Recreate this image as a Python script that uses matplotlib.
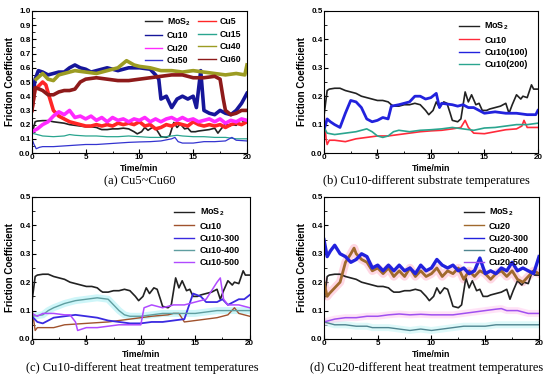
import matplotlib
matplotlib.use('Agg')
import matplotlib.pyplot as plt
from matplotlib.ticker import MultipleLocator

plt.rcParams['font.family'] = ['Liberation Sans', 'DejaVu Sans']
plt.rcParams['font.weight'] = 'bold'
plt.rcParams['mathtext.fontset'] = 'custom'
plt.rcParams['mathtext.rm'] = 'Liberation Sans:bold'
plt.rcParams['mathtext.it'] = 'Liberation Sans:bold'
plt.rcParams['mathtext.bf'] = 'Liberation Sans:bold'

#------------------------------------
# Data (time in min, friction coefficient)
mos2_t = [0, 0.3, 0.5, 1, 1.5, 2, 2.5, 3, 3.5, 4, 4.5, 5, 5.5, 6, 6.3, 6.5, 7, 7.5, 8, 8.5, 9, 9.5, 9.8,
          10.2, 10.5, 10.8, 11.2, 11.5, 11.8, 12, 12.5, 12.8, 13.2, 13.5, 13.8, 14.2, 14.5, 14.8, 15.2,
          15.5, 16, 16.5, 17, 17.3, 17.6, 18, 18.4, 18.6, 19, 19.4, 19.6, 20]
mos2_y = [0.13, 0.22, 0.225, 0.228, 0.228, 0.22, 0.215, 0.21, 0.2, 0.195, 0.19, 0.185, 0.185, 0.18, 0.17,
          0.165, 0.165, 0.17, 0.17, 0.175, 0.17, 0.15, 0.135, 0.15, 0.18, 0.16, 0.18, 0.175, 0.14, 0.115,
          0.11, 0.12, 0.215, 0.18, 0.205, 0.17, 0.175, 0.15, 0.15, 0.155, 0.16, 0.165, 0.175, 0.14, 0.17,
          0.205, 0.19, 0.2, 0.195, 0.24, 0.225, 0.225]

# (a) Cu5~Cu60
a_cu10_t = [0, 0.3, 0.6, 1, 1.5, 2, 2.5, 3, 3.5, 4, 4.5, 5, 5.5, 6, 7, 8, 9, 10, 11, 11.5, 11.8, 12, 12.5,
            13, 13.5, 14, 14.5, 15, 15.3, 15.7, 16, 16.5, 17, 17.5, 18, 18.5, 19, 19.5, 20]
a_cu10_y = [0.35, 0.52, 0.58, 0.57, 0.55, 0.56, 0.57, 0.57, 0.6, 0.62, 0.6, 0.59, 0.57, 0.58, 0.6, 0.58,
            0.6, 0.6, 0.59, 0.55, 0.52, 0.38, 0.4, 0.32, 0.38, 0.4, 0.38, 0.4, 0.32, 0.58, 0.3, 0.28, 0.27,
            0.3, 0.28, 0.27, 0.3, 0.35, 0.42]
a_cu40_t = [0.4, 1, 1.5, 2, 2.5, 3, 4, 5, 6, 7, 8, 8.8, 9.5, 10, 11, 12, 13, 14, 15, 16, 17, 18, 19, 19.8, 20]
a_cu40_y = [0.52, 0.56, 0.52, 0.51, 0.55, 0.56, 0.58, 0.57, 0.56, 0.58, 0.6, 0.65, 0.62, 0.61, 0.6, 0.58,
            0.58, 0.57, 0.58, 0.57, 0.56, 0.55, 0.56, 0.55, 0.62]
a_cu60_t = [0, 0.3, 0.7, 1, 1.5, 2, 2.5, 3, 3.5, 4, 4.5, 5, 6, 7, 8, 9, 10, 11, 12, 13, 14, 15, 16, 17,
            17.5, 17.8, 18, 18.5, 19, 19.5, 20]
a_cu60_y = [0.3, 0.46, 0.45, 0.44, 0.41, 0.41, 0.43, 0.44, 0.44, 0.45, 0.5, 0.52, 0.53, 0.52, 0.51, 0.51,
            0.52, 0.53, 0.54, 0.55, 0.55, 0.53, 0.53, 0.54, 0.52, 0.38, 0.3, 0.27, 0.28, 0.3, 0.3]
a_cu5_t = [0, 0.3, 0.6, 1, 1.3, 1.6, 2, 2.5, 3, 3.5, 4, 4.5, 5, 5.5, 6, 6.5, 7, 7.5, 8, 8.5, 9, 9.5, 10,
           10.5, 11, 11.5, 12, 12.5, 13, 13.5, 14, 14.5, 15, 15.5, 16, 16.5, 17, 17.5, 18, 18.5, 19, 19.5, 20]
a_cu5_y = [0.3, 0.45, 0.47, 0.5, 0.48, 0.4, 0.3, 0.26, 0.24, 0.22, 0.21, 0.2, 0.19, 0.19, 0.2, 0.19, 0.2,
           0.19, 0.21, 0.2, 0.21, 0.2, 0.22, 0.19, 0.2, 0.17, 0.18, 0.2, 0.19, 0.21, 0.2, 0.19, 0.22, 0.2,
           0.19, 0.2, 0.19, 0.2, 0.18, 0.2, 0.21, 0.2, 0.22]
a_cu20_t = [0, 0.5, 1, 1.5, 2, 2.5, 3, 3.5, 4, 4.5, 5, 5.5, 6, 6.5, 7, 7.5, 8, 8.5, 9, 9.5, 10, 10.5, 11,
            11.5, 12, 12.5, 13, 13.5, 14, 14.5, 15, 15.5, 16, 16.5, 17, 17.5, 18, 18.5, 19, 19.5, 20]
a_cu20_y = [0.15, 0.17, 0.2, 0.22, 0.26, 0.29, 0.27, 0.3, 0.25, 0.26, 0.24, 0.26, 0.23, 0.25, 0.22, 0.25,
            0.23, 0.24, 0.22, 0.24, 0.23, 0.25, 0.22, 0.24, 0.22, 0.24, 0.25, 0.23, 0.25, 0.23, 0.24, 0.22,
            0.23, 0.24, 0.22, 0.24, 0.21, 0.23, 0.22, 0.24, 0.23]
a_cu15_t = [0, 0.5, 1, 2, 3, 3.5, 4, 5, 6, 7, 8, 9, 10, 11, 12, 13, 13.5, 14, 15, 16, 17, 18, 19, 20]
a_cu15_y = [0.14, 0.13, 0.12, 0.115, 0.12, 0.13, 0.125, 0.12, 0.12, 0.115, 0.115, 0.12, 0.115, 0.11,
            0.11, 0.12, 0.125, 0.12, 0.115, 0.115, 0.11, 0.11, 0.1, 0.1]
a_cu50_t = [0, 0.2, 0.4, 0.7, 1, 2, 3, 4, 5, 6, 7, 8, 9, 10, 11, 12, 13, 13.3, 13.6, 14, 15, 16, 17, 18,
            18.6, 19, 20]
a_cu50_y = [0.1, 0.06, 0.03, 0.04, 0.045, 0.045, 0.05, 0.055, 0.06, 0.06, 0.065, 0.07, 0.075, 0.078, 0.08,
            0.085, 0.1, 0.11, 0.08, 0.07, 0.07, 0.08, 0.08, 0.085, 0.11, 0.09, 0.085]

# (b) Cu10-different substrate temperatures
b_cu10_t = [0, 0.2, 0.3, 0.5, 1, 2, 2.5, 3, 4, 5, 6, 7, 8, 9, 10, 11, 12, 12.8, 13.2, 13.5, 14, 15, 16,
            17, 18, 18.5, 18.7, 19, 20]
b_cu10_y = [0.14, 0.05, 0.03, 0.045, 0.045, 0.04, 0.045, 0.05, 0.055, 0.06, 0.06, 0.065, 0.07, 0.075,
            0.078, 0.08, 0.085, 0.09, 0.115, 0.09, 0.07, 0.068, 0.075, 0.082, 0.085, 0.095, 0.115, 0.09, 0.09]
b_cu100_t = [0, 0.3, 0.6, 1, 1.5, 2, 2.5, 3, 3.5, 4, 4.5, 5, 5.5, 6, 6.3, 7, 8, 8.5, 9, 9.5, 10, 10.5,
             10.8, 11, 12, 12.5, 13, 13.5, 14, 15, 16, 17, 18, 19, 19.8, 20]
b_cu100_y = [0.08, 0.12, 0.11, 0.1, 0.09, 0.14, 0.185, 0.18, 0.16, 0.12, 0.11, 0.115, 0.125, 0.12, 0.165,
             0.17, 0.18, 0.2, 0.2, 0.19, 0.195, 0.21, 0.16, 0.175, 0.17, 0.165, 0.17, 0.16, 0.16, 0.14,
             0.145, 0.14, 0.14, 0.135, 0.135, 0.15]
b_cu200_t = [0, 0.3, 1, 2, 3, 3.5, 4, 4.5, 5, 5.5, 6, 6.5, 7, 8, 9, 10, 11, 12, 13, 14, 15, 16, 17, 18, 19, 20]
b_cu200_y = [0.09, 0.07, 0.065, 0.07, 0.075, 0.08, 0.085, 0.075, 0.06, 0.055, 0.06, 0.075, 0.08, 0.075,
             0.08, 0.082, 0.085, 0.09, 0.085, 0.08, 0.088, 0.09, 0.095, 0.1, 0.1, 0.105]

# (c) Cu10-different heat treatment temperatures
c_cu10_t = [0, 0.3, 0.5, 2, 3, 5, 7, 9, 11, 12.5, 13, 13.5, 14, 15, 16, 17, 18, 18.6, 19, 20]
c_cu10_y = [0.11, 0.03, 0.04, 0.04, 0.05, 0.055, 0.06, 0.07, 0.08, 0.085, 0.09, 0.09, 0.06, 0.065, 0.07,
            0.075, 0.085, 0.11, 0.09, 0.08]
c_cu300_t = [0, 0.5, 1, 1.5, 2, 3, 4, 5, 6, 7, 8, 9, 10, 11, 12, 13, 14, 14.8, 15.5, 16, 17, 17.5, 18,
             18.5, 19, 19.5, 20]
c_cu300_y = [0.08, 0.06, 0.055, 0.065, 0.075, 0.08, 0.085, 0.08, 0.075, 0.065, 0.06, 0.055, 0.055, 0.06,
             0.06, 0.065, 0.07, 0.16, 0.15, 0.13, 0.13, 0.14, 0.12, 0.13, 0.14, 0.14, 0.155]
c_cu400_t = [0, 1, 1.5, 2, 3, 4, 5, 6, 7, 7.5, 8, 8.5, 9, 10, 11, 12, 13, 14, 15, 16, 17, 18, 19, 20]
c_cu400_y = [0.08, 0.085, 0.1, 0.11, 0.125, 0.135, 0.14, 0.145, 0.14, 0.12, 0.1, 0.085, 0.08, 0.08, 0.085,
             0.09, 0.09, 0.09, 0.09, 0.095, 0.1, 0.1, 0.1, 0.1]
c_cu500_t = [0, 0.5, 1, 2, 3, 3.5, 4, 4.2, 5, 6, 7, 8, 9, 10, 10.3, 11, 12, 13, 14, 15, 16, 17, 17.3,
             17.6, 18, 19, 20]
c_cu500_y = [0.09, 0.08, 0.09, 0.09, 0.085, 0.085, 0.06, 0.03, 0.04, 0.04, 0.045, 0.05, 0.05, 0.05, 0.11,
             0.12, 0.11, 0.12, 0.12, 0.13, 0.14, 0.2, 0.215, 0.14, 0.12, 0.12, 0.11]

# (d) Cu20-different heat treatment temperatures
d_cu20_t = [0, 0.3, 0.5, 1, 1.5, 2, 2.5, 2.8, 3, 3.5, 4, 4.5, 5, 5.5, 6, 6.5, 7, 7.5, 8, 8.5, 9, 9.5, 10,
            10.5, 11, 11.5, 12, 12.5, 13, 13.5, 14, 14.5, 15, 15.5, 16, 16.5, 17, 17.5, 18, 18.5, 19,
            19.5, 20]
d_cu20_y = [0.2, 0.15, 0.16, 0.18, 0.2, 0.27, 0.3, 0.32, 0.3, 0.28, 0.27, 0.24, 0.25, 0.23, 0.25, 0.22,
            0.24, 0.22, 0.25, 0.22, 0.24, 0.22, 0.23, 0.25, 0.22, 0.24, 0.23, 0.25, 0.21, 0.24, 0.22, 0.24,
            0.23, 0.21, 0.23, 0.24, 0.22, 0.24, 0.21, 0.2, 0.22, 0.24, 0.23]
d_cu300_t = [0, 0.3, 0.6, 1, 1.5, 2, 2.5, 3, 3.5, 4, 4.5, 5, 5.5, 6, 6.5, 7, 7.5, 8, 8.5, 9, 9.5, 10,
             10.5, 11, 11.5, 12, 12.5, 13, 13.5, 14, 14.5, 15, 15.5, 16, 16.5, 17, 17.5, 18, 18.5, 19,
             19.5, 20]
d_cu300_y = [0.35, 0.29, 0.31, 0.33, 0.3, 0.29, 0.27, 0.28, 0.3, 0.29, 0.25, 0.26, 0.24, 0.26, 0.24,
             0.26, 0.24, 0.25, 0.23, 0.26, 0.24, 0.25, 0.28, 0.26, 0.25, 0.26, 0.24, 0.25, 0.23, 0.24,
             0.285, 0.23, 0.24, 0.23, 0.25, 0.24, 0.27, 0.24, 0.25, 0.24, 0.23, 0.29]
d_cu400_t = [0, 0.5, 1, 2, 3, 4, 4.5, 5, 6, 7, 8, 9, 10, 11, 12, 13, 14, 15, 16, 17, 18, 19, 20]
d_cu400_y = [0.06, 0.055, 0.05, 0.05, 0.045, 0.045, 0.04, 0.04, 0.04, 0.035, 0.03, 0.035, 0.03, 0.035,
             0.04, 0.045, 0.045, 0.045, 0.05, 0.05, 0.05, 0.05, 0.05]
d_cu500_t = [0, 0.5, 1, 2, 3, 4, 5, 6, 7, 8, 9, 10, 11, 12, 13, 14, 15, 16, 16.5, 17, 18, 19, 20]
d_cu500_y = [0.06, 0.065, 0.07, 0.075, 0.075, 0.08, 0.08, 0.085, 0.088, 0.085, 0.087, 0.085, 0.085,
             0.085, 0.09, 0.095, 0.1, 0.105, 0.107, 0.1, 0.1, 0.09, 0.09]

#------------------------------------
# Figure
fig = plt.figure(figsize=(5.5, 3.78), dpi=100)
ax_a = fig.add_axes([0.058, 0.5952, 0.391, 0.3757])
ax_b = fig.add_axes([0.589, 0.5952, 0.389, 0.3757])
ax_c = fig.add_axes([0.058, 0.1032, 0.396, 0.3757])
ax_d = fig.add_axes([0.589, 0.1032, 0.391, 0.3757])

THICK = 2.6
THIN = 0.9

# (a)
h_mos2, = ax_a.plot(mos2_t, mos2_y, color='#222222', lw=1.2, label='MoS$_2$')
h_cu5, = ax_a.plot(a_cu5_t, a_cu5_y, color='#ff2626', lw=THICK, label='Cu5')
h_cu10, = ax_a.plot(a_cu10_t, a_cu10_y, color='#16169a', lw=THICK, label='Cu10')
h_cu15, = ax_a.plot(a_cu15_t, a_cu15_y, color='#2aa58f', lw=THIN, label='Cu15')
h_cu20, = ax_a.plot(a_cu20_t, a_cu20_y, color='#ff2aff', lw=THICK, label='Cu20')
h_cu40, = ax_a.plot(a_cu40_t, a_cu40_y, color='#9c9c22', lw=THICK, label='Cu40')
h_cu50, = ax_a.plot(a_cu50_t, a_cu50_y, color='#3434d0', lw=THIN, label='Cu50')
h_cu60, = ax_a.plot(a_cu60_t, a_cu60_y, color='#8e1a1a', lw=THICK, label='Cu60')
ax_a.set_ylim(0, 1.0)
ax_a.yaxis.set_major_locator(MultipleLocator(0.1))
ax_a.yaxis.set_minor_locator(MultipleLocator(0.05))

# (b)
ax_b.plot(mos2_t, mos2_y, color='#222222', lw=1.2, label='MoS$_2$')
ax_b.plot(b_cu10_t, b_cu10_y, color='#ff2a3a', lw=1.2, label='Cu10')
ax_b.plot(b_cu100_t, b_cu100_y, color='#2222dd', lw=2.0, label='Cu10(100)')
ax_b.plot(b_cu200_t, b_cu200_y, color='#2aa58f', lw=1.2, label='Cu10(200)')

# (c)
ax_c.plot(c_cu400_t, c_cu400_y, color='#aef0f5', lw=5, alpha=0.6)
ax_c.plot(mos2_t, mos2_y, color='#222222', lw=1.2, label='MoS$_2$')
ax_c.plot(c_cu10_t, c_cu10_y, color='#a0522d', lw=1.0, label='Cu10')
ax_c.plot(c_cu300_t, c_cu300_y, color='#3a2ae0', lw=1.3, label='Cu10-300')
ax_c.plot(c_cu400_t, c_cu400_y, color='#5f9ea0', lw=1.0, label='Cu10-400')
ax_c.plot(c_cu500_t, c_cu500_y, color='#b04aff', lw=1.1, label='Cu10-500')

# (d)
ax_d.plot(d_cu20_t, d_cu20_y, color='#ffb0c8', lw=6, alpha=0.5)
ax_d.plot(d_cu400_t, d_cu400_y, color='#c8f5f5', lw=5, alpha=0.6)
ax_d.plot(d_cu500_t, d_cu500_y, color='#ffc8ee', lw=5, alpha=0.5)
ax_d.plot(mos2_t, mos2_y, color='#222222', lw=1.2, label='MoS$_2$')
ax_d.plot(d_cu20_t, d_cu20_y, color='#a0692d', lw=2.0, label='Cu20')
ax_d.plot(d_cu300_t, d_cu300_y, color='#2222dd', lw=2.4, label='Cu20-300')
ax_d.plot(d_cu400_t, d_cu400_y, color='#4f8590', lw=1.0, label='Cu20-400')
ax_d.plot(d_cu500_t, d_cu500_y, color='#a050f0', lw=1.1, label='Cu20-500')

for ax in (ax_b, ax_c, ax_d):
    ax.set_ylim(0, 0.5)
    ax.yaxis.set_major_locator(MultipleLocator(0.1))
    ax.yaxis.set_minor_locator(MultipleLocator(0.05))

for ax in (ax_a, ax_b, ax_c, ax_d):
    ax.set_xlim(0, 20)
    ax.xaxis.set_major_locator(MultipleLocator(5))
    ax.xaxis.set_minor_locator(MultipleLocator(2.5))
    ax.tick_params(which='both', direction='in', labelsize=5.8, pad=1)
    ax.tick_params(which='major', length=3, width=0.8)
    ax.tick_params(which='minor', length=1.8, width=0.6)
    for lab in ax.get_xticklabels() + ax.get_yticklabels():
        lab.set_fontweight('bold')
    ax.set_xlabel('Time/min', fontsize=6.3, fontweight='bold', va='top')
    ax.xaxis.set_label_coords(0.5, -0.077)
    ax.set_ylabel('Friction Coefficient', fontsize=7, fontweight='bold', labelpad=3)
    for s in ax.spines.values():
        s.set_linewidth(0.8)

# legend in (a) is filled row by row in the reference
leg_a = ax_a.legend([h_mos2, h_cu10, h_cu20, h_cu50, h_cu5, h_cu15, h_cu40, h_cu60],
                    ['MoS$_2$', 'Cu10', 'Cu20', 'Cu50', 'Cu5', 'Cu15', 'Cu40', 'Cu60'],
                    ncol=2, loc='upper right', frameon=False, handlelength=2.0,
                    columnspacing=0.9, labelspacing=0.4, borderaxespad=0.2, handletextpad=0.5,
                    prop={'weight': 'bold', 'size': 6.3})
for ln in leg_a.get_lines():
    ln.set_linewidth(1.0)
for ax in (ax_b, ax_c, ax_d):
    leg = ax.legend(loc='upper right', frameon=False, handlelength=2.2, labelspacing=0.35,
                    borderaxespad=0.7, handletextpad=0.6, prop={'weight': 'bold', 'size': 6.5})
    for ln in leg.get_lines():
        ln.set_linewidth(1.0)

# Captions
cap = dict(fontsize=9, family='Liberation Serif', fontweight='normal', ha='center', va='center')
fig.text(0.254, 1 - 181 / 378, '(a) Cu5~Cu60', **cap)
fig.text(0.775, 1 - 181 / 378, '(b) Cu10-different substrate temperatures', **cap)
fig.text(0.258, 1 - 368 / 378, '(c) Cu10-different heat treatment temperatures', **cap)
fig.text(0.775, 1 - 368 / 378, '(d) Cu20-different heat treatment temperatures', **cap)

fig.savefig('out.png', dpi=100)
